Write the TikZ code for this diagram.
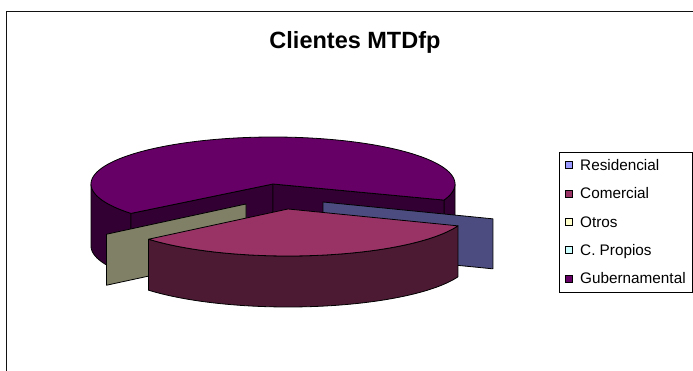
\documentclass[tikz,border=0pt]{standalone}
\usepackage{fontspec}
\setmainfont{Liberation Sans}
\definecolor{gubTop}{HTML}{660066}
\definecolor{gubSide}{HTML}{330033}
\definecolor{comTop}{HTML}{993366}
\definecolor{comSide}{HTML}{4C1A33}
\definecolor{resKey}{HTML}{9999FF}
\definecolor{resSide}{HTML}{4C4C80}
\definecolor{otrKey}{HTML}{FFFFCC}
\definecolor{otrSide}{HTML}{808066}
\definecolor{cprKey}{HTML}{CCFFFF}
\begin{document}
\begin{tikzpicture}[x=1pt,y=-1pt,
  face/.style={draw=black,line width=0.8pt,line join=round},
  legkey/.style={draw=black,line width=0.6pt,minimum size=7pt,inner sep=0pt},
  legtext/.style={anchor=base west,inner sep=0pt,font=\fontsize{15.3}{18}\selectfont}]
\useasboundingbox (0,0) rectangle (693,371);
\clip (0,0) rectangle (693,371);

% chart frame (right and bottom sides run off the page)
\draw[line width=1.5pt,draw=black!93] (6.5,11.5) rectangle (720,400);

% title
\node[anchor=base,inner sep=0pt,font=\bfseries\fontsize{23.5}{28}\selectfont] (title) at (355,49) {Clientes MTDfp};

% ---- Gubernamental slice: apex (273,184), radii 182 x 47, depth 62, from -20 to 218.7 deg
\coordinate (G)   at (273,184);
\coordinate (Gb)  at (273,246);
\coordinate (GL)  at ({273+182*cos(218.7)},{184-47*sin(218.7)});
\coordinate (GLb) at ({273+182*cos(218.7)},{246-47*sin(218.7)});
\coordinate (GR)  at ({273+182*cos(340)},{184-47*sin(340)});
\coordinate (GRb) at ({273+182*cos(340)},{246-47*sin(340)});
% outer walls
\path[face,fill=gubSide] plot[domain=180:218.7,samples=30] ({273+182*cos(\x)},{184-47*sin(\x)})
  -- plot[domain=218.7:180,samples=30] ({273+182*cos(\x)},{246-47*sin(\x)}) -- cycle;
\path[face,fill=gubSide] plot[domain=340:360,samples=20] ({273+182*cos(\x)},{184-47*sin(\x)})
  -- plot[domain=360:340,samples=20] ({273+182*cos(\x)},{246-47*sin(\x)}) -- cycle;
% cut faces
\path[face,fill=gubSide] (G) -- (GL) -- (GLb) -- (Gb) -- cycle;
\path[face,fill=gubSide] (G) -- (GR) -- (GRb) -- (Gb) -- cycle;
% top
\path[face,fill=gubTop] (G) -- (GR) -- plot[domain=-20:218.7,samples=160] ({273+182*cos(\x)},{184-47*sin(\x)}) -- cycle;

% ---- Otros slice (thin, exploded): apex (246,204), face at 220 deg, depth 51
\coordinate (O)   at (246,204);
\coordinate (Ob)  at (246,255);
\coordinate (OR)  at ({246+182*cos(220)},{204-47*sin(220)});
\coordinate (ORb) at ({246+182*cos(220)},{255-47*sin(220)});
\path[face,fill=otrSide] (O) -- (OR) -- (ORb) -- (Ob) -- cycle;

% ---- Residencial slice (thin, exploded): apex (323,202), face at 339 deg, depth 50
\coordinate (R)   at (323,202);
\coordinate (Rb)  at (323,252);
\coordinate (RR)  at ({323+182*cos(339)},{202-47*sin(339)});
\coordinate (RRb) at ({323+182*cos(339)},{252-47*sin(339)});
\path[face,fill=resSide] (R) -- (RR) -- (RRb) -- (Rb) -- cycle;

% ---- Comercial slice (exploded): apex (288,209), from 220 to 339 deg, depth 51
\coordinate (C) at (288,209);
\path[face,fill=comSide] plot[domain=220:339,samples=90] ({288+182*cos(\x)},{209-47*sin(\x)})
  -- plot[domain=339:220,samples=90] ({288+182*cos(\x)},{260-47*sin(\x)}) -- cycle;
\path[face,fill=comTop] (C) -- plot[domain=220:339,samples=90] ({288+182*cos(\x)},{209-47*sin(\x)}) -- cycle;

% ---- legend
\draw[line width=0.8pt] (559,152) rectangle (692,292);
\node[legkey,fill=resKey]  (k1) at (569,165.3) {};
\node[legkey,fill=comTop]  (k2) at (569,193.6) {};
\node[legkey,fill=otrKey]  (k3) at (569,221.9) {};
\node[legkey,fill=cprKey]  (k4) at (569,250.2) {};
\node[legkey,fill=gubTop]  (k5) at (569,278.5) {};
\node[legtext] (t1) at (580,170.7) {Residencial};
\node[legtext] (t2) at (580,199.0) {Comercial};
\node[legtext] (t3) at (580,227.3) {Otros};
\node[legtext] (t4) at (580,255.6) {C. Propios};
\node[legtext] (t5) at (580,283.9) {Gubernamental};
\end{tikzpicture}
\end{document}
